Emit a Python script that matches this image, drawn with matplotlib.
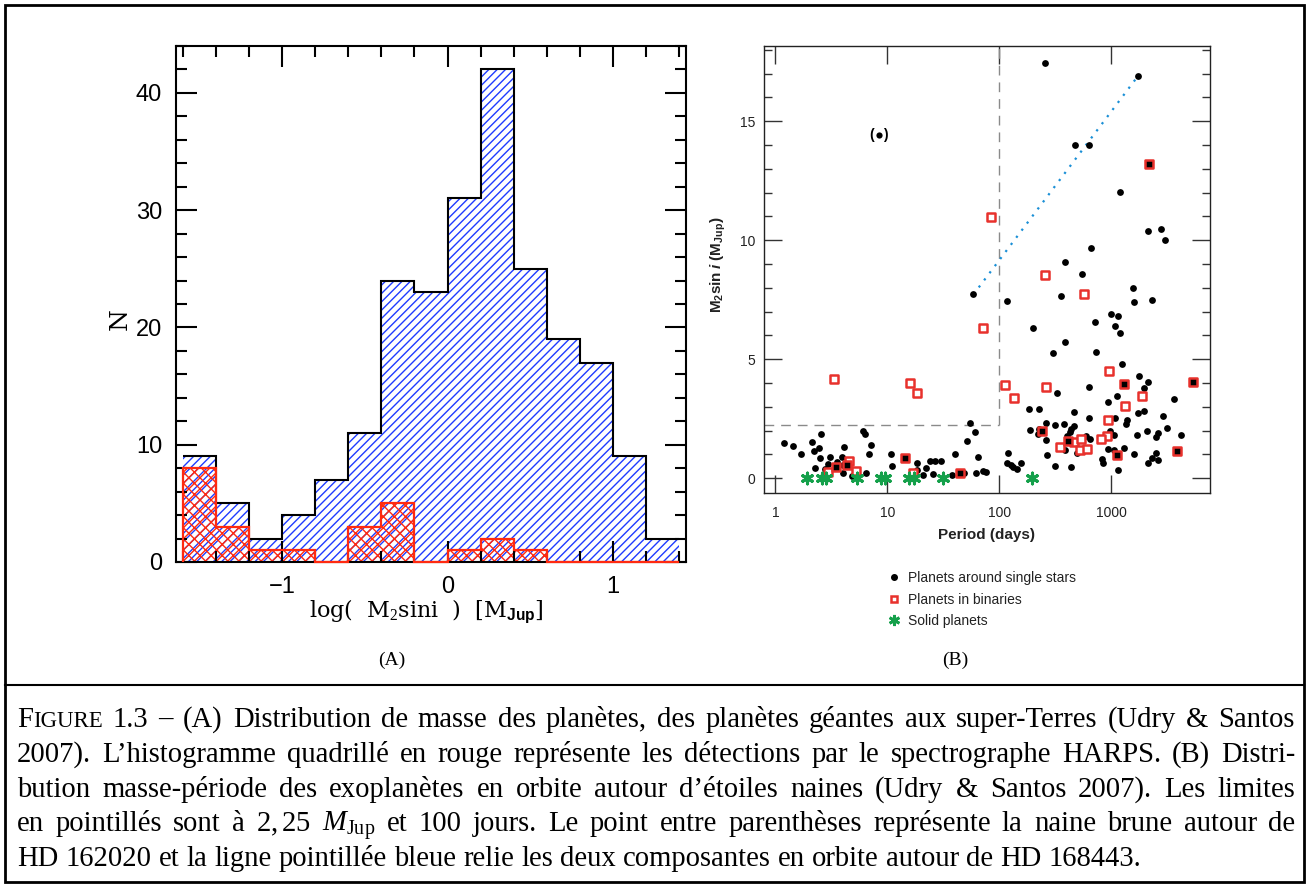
import matplotlib
matplotlib.use('Agg')
import matplotlib.pyplot as plt
import numpy as np
from matplotlib.ticker import MultipleLocator, NullLocator, FixedLocator
from matplotlib.lines import Line2D
from matplotlib.patches import Rectangle

plt.rcParams['mathtext.fontset'] = 'custom'
plt.rcParams['mathtext.rm'] = 'Liberation Serif'
plt.rcParams['mathtext.it'] = 'Liberation Serif:italic'
plt.rcParams['mathtext.bf'] = 'Liberation Sans:bold'
plt.rcParams['mathtext.sf'] = 'Liberation Sans:bold:italic'
plt.rcParams['hatch.linewidth'] = 1.0

# --- (A) histogramme des masses ---
bin_edges = np.linspace(-1.6, 1.4, 16)
n_all = [9, 5, 2, 4, 7, 11, 24, 23, 31, 42, 25, 19, 17, 9, 2]
n_harps = [8, 3, 1, 1, 0, 3, 5, 0, 1, 2, 1, 0, 0, 0, 0]

# --- (B) masse-periode ---
single_p = [256, 1742, 471, 636, 1195, 2110, 2774, 3034, 654, 386, 551, 1571, 58.6, 117, 358,
            2307, 1593, 198, 1000, 1148, 714, 1078, 1195, 383, 303, 730, 1245,
            327, 636, 1766, 2110, 1972, 3653, 927, 1116, 1730, 1972, 2912, 1086, 1389, 1361,
            3162, 2067, 2594, 2506, 4217, 1683, 1049, 967, 934, 1057, 1306, 1604, 2506, 2307,
            2594, 2110, 826, 849, 1156, 461, 628, 183, 228, 261, 312, 378, 461, 188, 228, 220,
            259, 433, 405, 427, 594, 645, 436, 386, 497, 267, 312, 439, 119, 118, 126, 133,
            144, 155,
            1.2, 1.43, 1.68, 2.12, 2.21, 2.47, 2.54, 2.52, 2.24, 3.08, 2.97, 3.53, 3.94, 4.1,
            3.99, 2.79, 3.99, 4.84, 6.46, 6.1, 6.31, 7.15, 6.86, 10.7, 10.9, 18.2, 18.3, 20.7,
            22.0, 24.0, 26.6, 25.7, 30.3, 37.8, 39.9, 48.4, 51.5, 54.4, 61.0, 64.5, 62.3, 71.0,
            75.5]
single_m = [17.43, 16.92, 14.01, 14.01, 12.01, 10.39, 10.46, 10.01, 9.69, 9.1, 8.6, 8.01, 7.72,
            7.43, 7.65, 7.5, 7.4, 6.31, 6.91, 6.81, 6.55, 6.39, 6.11, 5.71, 5.27, 5.30, 4.81,
            3.58, 3.83, 4.28, 4.06, 3.78, 3.31, 3.22, 3.44, 2.76, 2.83, 2.60, 2.55, 2.45, 2.27,
            2.10, 1.97, 1.89, 1.75, 1.82, 1.83, 1.82, 2.0, 1.24, 1.17, 1.26, 1.03, 1.08, 0.83,
            0.76, 0.62, 0.81, 0.63, 0.36, 2.78, 2.55, 2.91, 2.9, 2.34, 2.25, 2.27, 2.2, 2.04,
            2.07, 1.86, 1.62, 2.08, 1.78, 1.96, 1.76, 1.66, 1.54, 1.17, 1.05, 0.99, 0.52, 0.49,
            1.06, 0.66, 0.56, 0.49, 0.38, 0.64,
            1.47, 1.36, 1.02, 1.51, 1.16, 1.29, 1.86, 0.85, 0.43, 0.91, 0.6, 0.7, 0.88, 1.3,
            0.55, 0.38, 0.24, 0.1, 0.24, 2.0, 1.86, 1.41, 1.02, 1.02, 0.52, 0.63, 0.35, 0.14,
            0.41, 0.74, 0.74, 0.18, 0.73, 0.13, 1.02, 0.24, 1.57, 2.31, 1.93, 0.9, 0.24, 0.32,
            0.28]

binary_p = [83.7, 256, 570, 71.5, 953, 3.32, 15.8, 18.2, 111.6, 134, 263, 1892, 1334, 927,
            908, 803, 461, 532, 525, 611, 348, 4.58, 5.25, 2.97, 17.0]
binary_m = [10.98, 8.52, 7.76, 6.31, 4.52, 4.15, 4.01, 3.57, 3.90, 3.38, 3.85, 3.44, 3.03, 2.45,
            1.78, 1.64, 1.52, 1.66, 1.19, 1.22, 1.31, 0.71, 0.32, 0.28, 0.2]
binary_full_p = [2154, 1297, 5395, 1116, 3882, 242, 413, 3.5, 4.39, 14.3, 44.2]
binary_full_m = [13.21, 3.96, 4.06, 0.97, 1.16, 1.99, 1.57, 0.46, 0.55, 0.85, 0.22]

solid_p = [1.93, 2.59, 2.83, 5.36, 8.72, 9.6, 15.7, 17.1, 31.2, 197]
solid_m = [0.03] * len(solid_p)

bd_p, bd_m = 8.36, 14.4            # naine brune HD 162020
hd168443_p = [58.6, 1742]
hd168443_m = [7.72, 16.92]
m_lim, p_lim = 2.25, 100

W, H = 1310, 888
fig = plt.figure(figsize=(W / 100, H / 100), dpi=100)


def fx(x):
    return x / W


def fy(y):
    return 1 - y / H


blue = '#1f3cff'
red = '#ff2a10'

# ---------------- panneau A ----------------
ax1 = fig.add_axes([fx(176), fy(562), (686 - 176) / W, (562 - 46) / H])
ax1.stairs(n_all, bin_edges, fill=True, facecolor='white', edgecolor=blue,
           hatch='////', linewidth=0)
ax1.stairs(n_all, bin_edges, baseline=None, color='black', linewidth=1.5)
ax1.stairs(n_harps, bin_edges, fill=True, facecolor='none', edgecolor=red,
           hatch='xxx', linewidth=0)
ax1.stairs(n_harps, bin_edges, baseline=0, color=red, linewidth=1.6,
           zorder=3, clip_on=False)
ax1.set_xlim(-1.64, 1.44)
ax1.set_ylim(0, 44)
ax1.xaxis.set_major_locator(MultipleLocator(1))
ax1.xaxis.set_minor_locator(MultipleLocator(0.2))
ax1.yaxis.set_major_locator(MultipleLocator(10))
ax1.yaxis.set_minor_locator(MultipleLocator(2))
ax1.tick_params(which='both', direction='in', top=True, right=True, width=1.5)
ax1.tick_params(which='major', length=15, labelsize=17, pad=10)
ax1.tick_params(which='minor', length=8)
for lab in ax1.get_xticklabels() + ax1.get_yticklabels():
    lab.set_family('Liberation Sans')
for sp in ax1.spines.values():
    sp.set_linewidth(1.5)
ax1.set_ylabel('N', family='DejaVu Serif', fontsize=18)
ax1.yaxis.set_label_coords(-0.11, 0.47)
ax1.yaxis.label.set_va('center')
ax1.set_xlabel(r'log(  M$_2$sini  )  [M$_{\mathbf{Jup}}$]', family='DejaVu Serif',
               fontsize=16)
ax1.xaxis.set_label_coords(0.49, -0.095)
ax1.xaxis.label.set_va('center')

# ---------------- panneau B ----------------
x_lo, x_hi, y_lo, y_hi = 0.79, 7600, -0.62, 18.16
ax2 = fig.add_axes([fx(764), fy(493), 446 / W, 447 / H])
ax2.set_xscale('log')
ax2.plot([p_lim, p_lim], [m_lim, y_hi], color='#8a8a8a', lw=1, ls=(0, (7, 5)))
ax2.plot([x_lo, p_lim], [m_lim, m_lim], color='#8a8a8a', lw=1, ls=(0, (7, 5)))
ax2.plot(hd168443_p, hd168443_m, color='#1a8fd6', lw=1.6, ls=(0, (1, 3)))
ax2.scatter(single_p, single_m, s=24, c='black', linewidths=0, zorder=3)
ax2.scatter(binary_p, binary_m, s=26, marker='s', facecolors='white',
            edgecolors='#e8312c', linewidths=1.8, zorder=4)
ax2.scatter(binary_full_p, binary_full_m, s=26, marker='s', facecolors='black',
            edgecolors='#e8312c', linewidths=1.8, zorder=4)
ax2.scatter(solid_p, solid_m, s=60, marker=(6, 2, 0), c='#14a04a', linewidths=2.2,
            zorder=5, clip_on=False)
ax2.scatter([bd_p], [bd_m], s=20, c='black', linewidths=0, zorder=3)
for par, dx in (('(', -5), (')', 5)):
    ax2.annotate(par, (bd_p, bd_m), xytext=(dx, 0), textcoords='offset points',
                 ha='center', va='center', fontsize=10, fontweight='bold',
                 family='Liberation Sans')
ax2.set_xlim(x_lo, x_hi)
ax2.set_ylim(y_lo, y_hi)
ax2.xaxis.set_major_locator(FixedLocator([1, 10, 100, 1000]))
ax2.xaxis.set_minor_locator(NullLocator())
ax2.set_xticklabels(['1', '10', '100', '1000'])
ax2.yaxis.set_major_locator(MultipleLocator(5))
ax2.yaxis.set_minor_locator(MultipleLocator(1))
ax2.tick_params(which='both', direction='in', top=True, right=True, width=1,
                color='#333333', labelcolor='#222222')
ax2.tick_params(which='major', length=13, labelsize=10, pad=6)
ax2.tick_params(which='minor', length=6)
ax2.tick_params(axis='x', pad=9)
for lab in ax2.get_xticklabels() + ax2.get_yticklabels():
    lab.set_family('Liberation Sans')
for sp in ax2.spines.values():
    sp.set_linewidth(1)
    sp.set_color('#222222')
ax2.set_xlabel('Period (days)', family='Liberation Sans', fontweight='bold',
               fontsize=11, color='#222222')
ax2.xaxis.set_label_coords(0.5, -0.094)
ax2.xaxis.label.set_va('center')
ax2.set_ylabel(r'$\mathbf{M_2sin}\ \mathsf{i}\ \mathbf{(M_{Jup})}$', fontsize=11,
               color='#222222')
ax2.yaxis.set_label_coords(-0.103, 0.51)
ax2.yaxis.label.set_va('center')

handles = [
    Line2D([], [], ls='none', marker='o', ms=4, mfc='black', mec='black'),
    Line2D([], [], ls='none', marker='s', ms=5, mfc='white', mec='#e8312c', mew=1.8),
    Line2D([], [], ls='none', marker=(6, 2, 0), ms=8, color='#14a04a', mew=2),
]
leg = fig.legend(handles, ['Planets around single stars', 'Planets in binaries', 'Solid planets'],
                 loc='upper left', bbox_to_anchor=(fx(887), fy(571)), frameon=False,
                 fontsize=10, handlelength=1.0, handletextpad=0.5, labelspacing=0.55,
                 borderpad=0, borderaxespad=0)
for t in leg.get_texts():
    t.set_family('Liberation Sans')
    t.set_color('#222222')

fig.text(fx(392), fy(660), '(A)', ha='center', va='center', fontsize=14,
         family='Liberation Serif')
fig.text(fx(955), fy(660), '(B)', ha='center', va='center', fontsize=14,
         family='Liberation Serif')

# ---------------- legende de la figure (texte justifie) ----------------
caption = [
    [[('F', 1.0), ('IGURE', 0.8)], '1.3', '–', '(A)', 'Distribution', 'de', 'masse', 'des',
     'planètes,', 'des', 'planètes', 'géantes', 'aux', 'super-Terres', '(Udry', '&', 'Santos'],
    '2007). L’histogramme quadrillé en rouge représente les détections par le '
    'spectrographe HARPS. (B) Distri-'.split(),
    'bution masse-période des exoplanètes en orbite autour d’étoiles naines '
    '(Udry & Santos 2007). Les limites'.split(),
    ['en', 'pointillés', 'sont', 'à', r'$2,25$', r'$M_{\rm Jup}$', 'et', '100', 'jours.', 'Le',
     'point', 'entre', 'parenthèses', 'représente', 'la', 'naine', 'brune', 'autour', 'de'],
    'HD 162020 et la ligne pointillée bleue relie les deux composantes en orbite '
    'autour de HD 168443.'.split(),
]
renderer = fig.canvas.get_renderer()


def text_width(s, size):
    t = fig.text(0, 0, s, fontsize=size, family='Liberation Serif')
    w = t.get_window_extent(renderer).width
    t.remove()
    return w


cap_size = 20.6
x0, x1 = 17, 1295
space = text_width('a a', cap_size) - text_width('aa', cap_size)
for i, words in enumerate(caption):
    y = 727 + i * 34.75
    pieces = [[(w, 1.0)] if isinstance(w, str) else w for w in words]
    widths = [sum(text_width(s, cap_size * k) for s, k in wp) for wp in pieces]
    if i < len(caption) - 1:
        gap = (x1 - x0 - sum(widths)) / (len(pieces) - 1)
    else:
        gap = space
    x = x0
    for wp, w in zip(pieces, widths):
        xx = x
        for s, k in wp:
            fig.text(fx(xx), fy(y), s, fontsize=cap_size * k, family='Liberation Serif',
                     ha='left', va='baseline')
            xx += text_width(s, cap_size * k)
        x += w + gap

# cadre
fig.add_artist(Rectangle((fx(5), fy(882)), (1304 - 5) / W, (882 - 5) / H,
                         transform=fig.transFigure, fill=False, lw=2, ec='black'))
fig.add_artist(Line2D([fx(5), fx(1304)], [fy(685), fy(685)], transform=fig.transFigure,
                      color='black', lw=1.5))

fig.savefig('out.png', dpi=100)
